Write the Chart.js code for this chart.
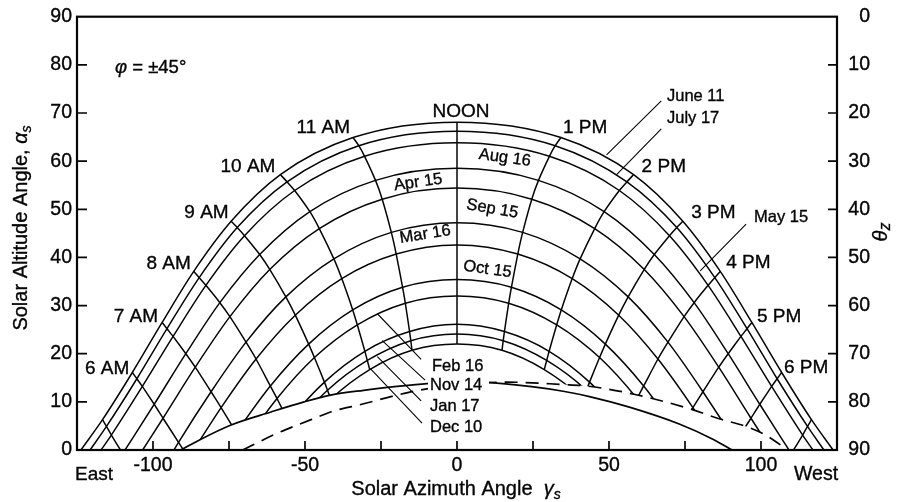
<!DOCTYPE html>
<html>
<head>
<meta charset="utf-8">
<script src="https://cdn.jsdelivr.net/npm/chart.js@4.4.1/dist/chart.umd.min.js"></script>
<style>
html,body{margin:0;padding:0;background:#fff;}
#wrap{width:901px;height:502px;}
</style>
</head>
<body>
<div id="wrap"><canvas id="c" width="901" height="502"></canvas></div>
<script>
// ---------------- data (degrees) ----------------
const dateLabels = ['June 11','July 17','May 15','Aug 16','Apr 15','Sep 15','Mar 16','Oct 15','Feb 16','Nov 14','Jan 17','Dec 10'];
const hourLabels = ['5 AM','6 AM','7 AM','8 AM','9 AM','10 AM','11 AM','NOON','1 PM','2 PM','3 PM','4 PM','5 PM','6 PM','7 PM'];

// solar altitude (alt) and solar azimuth (az) at each hour, 5 AM ... 7 PM (null = not above horizon)
const altJun11 = [6.3,16.1,26.5,37.1,47.5,57.2,64.9,68.1,64.9,57.2,47.5,37.1,26.5,16.1,6.3];
const azJun11  = [-116.6,-106.8,-97.0,-86.6,-74.3,-58.1,-34.2,0,34.2,58.1,74.3,86.6,97.0,106.8,116.6];
const altJul17 = [4.9,14.8,25.2,35.8,46.2,55.7,63.2,66.2,63.2,55.7,46.2,35.8,25.2,14.8,4.9];
const azJul17  = [-115.3,-105.3,-95.4,-84.8,-72.3,-55.9,-32.3,0,32.3,55.9,72.3,84.8,95.4,105.3,115.3];
const altMay15 = [3.1,13.2,23.6,34.2,44.5,53.9,61.0,63.8,61.0,53.9,44.5,34.2,23.6,13.2,3.1];
const azMay15  = [-113.7,-103.5,-93.4,-82.6,-69.9,-53.4,-30.4,0,30.4,53.4,69.9,82.6,93.4,103.5,113.7];
const altAug16 = [null,9.5,20.0,30.6,40.6,49.5,56.0,58.5,56.0,49.5,40.6,30.6,20.0,9.5,null];
const azAug16  = [null,-99.6,-89.2,-78.0,-64.9,-48.4,-26.8,0,26.8,48.4,64.9,78.0,89.2,99.6,null];
const altApr15 = [null,6.6,17.2,27.7,37.5,46.0,52.1,54.4,52.1,46.0,37.5,27.7,17.2,6.6,null];
const azApr15  = [null,-96.7,-86.1,-74.7,-61.6,-45.3,-24.6,0,24.6,45.3,61.6,74.7,86.1,96.7,null];
const altSep15 = [null,1.6,12.1,22.4,31.8,39.7,45.2,47.2,45.2,39.7,31.8,22.4,12.1,1.6,null];
const azSep15  = [null,-91.6,-80.9,-69.4,-56.3,-40.5,-21.6,0,21.6,40.5,56.3,69.4,80.9,91.6,null];
const altMar16 = [null,null,8.8,18.9,28.0,35.6,40.7,42.6,40.7,35.6,28.0,18.9,8.8,null,null];
const azMar16  = [null,null,-77.6,-66.1,-53.2,-37.9,-20.0,0,20.0,37.9,53.2,66.1,77.6,null,null];
const altOct15 = [null,null,3.6,13.3,22.0,29.1,33.8,35.4,33.8,29.1,22.0,13.3,3.6,null,null];
const azOct15  = [null,null,-72.6,-61.4,-48.8,-34.3,-17.9,0,17.9,34.3,48.8,61.4,72.6,null,null];
const altFeb16 = [null,null,1.1,10.7,19.2,26.0,30.5,32.0,30.5,26.0,19.2,10.7,1.1,null,null];
const azFeb16  = [null,null,-70.3,-59.2,-46.9,-32.8,-17.0,0,17.0,32.8,46.9,59.2,70.3,null,null];
const altNov14 = [null,null,null,6.0,14.1,20.5,24.6,26.1,24.6,20.5,14.1,6.0,null,null,null];
const azNov14  = [null,null,null,-55.5,-43.6,-30.3,-15.6,0,15.6,30.3,43.6,55.5,null,null,null];
const altJan17 = [null,null,null,4.5,12.4,18.6,22.7,24.1,22.7,18.6,12.4,4.5,null,null,null];
const azJan17  = [null,null,null,-54.2,-42.6,-29.5,-15.2,0,15.2,29.5,42.6,54.2,null,null,null];
const altDec10 = [null,null,null,2.8,10.6,16.7,20.7,22.0,20.7,16.7,10.6,2.8,null,null,null];
const azDec10  = [null,null,null,-53.0,-41.5,-28.7,-14.8,0,14.8,28.7,41.5,53.0,null,null,null];

// azimuth where each date curve meets the horizon (sunrise = negative, sunset = positive)
const sunsetAz = [123.7,120.7,117.1,109.2,103.4,93.1,86.6,76.4,71.5,62.7,59.7,56.5];
// azimuth where each hour line meets the horizon
const hourHorizonAz = [-110.7,-90.0,-69.3,null,null,null,null,null,null,null,null,null,69.3,90.0,110.7];

// lower boundary curves
const solidAz   = [-90.8,-84.7,-74.3,-61.2,-50.3,-41.6,-30.7,-19.8,-9.9,0,10.8,23.9,34.9,43.6,56.7,73.1,84.0,90.5];
const solidAlt  = [0,2.1,5.2,7.9,10.0,11.4,12.4,13.2,13.8,14.1,14.0,13.2,12.2,11.1,8.9,5.4,2.3,0];
const dashedAz  = [-70.5,-60.1,-52.5,-44.8,-41.6,-30.7,-19.8,-9.9,16.3,34.9,42.5,56.7,76.4,86.2,95.5,101.5,108.8];
const dashedAlt = [0,3.2,5.2,7.1,7.9,9.6,11.4,12.7,14.1,13.6,13.3,11.8,8.6,6.5,4.8,3.1,0];

// ---------------- build ----------------
const dateAlt = [altJun11,altJul17,altMay15,altAug16,altApr15,altSep15,altMar16,altOct15,altFeb16,altNov14,altJan17,altDec10];
const dateAz  = [azJun11,azJul17,azMay15,azAug16,azApr15,azSep15,azMar16,azOct15,azFeb16,azNov14,azJan17,azDec10];

const INK = '#050505';
const FONT = '"Liberation Sans", Arial, Helvetica, sans-serif';
Chart.defaults.font.family = FONT;
Chart.defaults.color = INK;

const datasets = [];
dateLabels.forEach((name, d) => {
  const pts = [{x: -sunsetAz[d], y: 0}];
  for (let h = 0; h < hourLabels.length; h++) {
    if (dateAlt[d][h] !== null) pts.push({x: dateAz[d][h], y: dateAlt[d][h]});
  }
  pts.push({x: sunsetAz[d], y: 0});
  datasets.push({label: name, data: pts, showLine: true, cubicInterpolationMode: 'monotone',
    borderColor: INK, borderWidth: 1.5, pointRadius: 0, fill: false, order: 10});
});
hourLabels.forEach((name, h) => {
  const pts = [];
  for (let d = 0; d < dateLabels.length; d++) {
    if (dateAlt[d][h] !== null) pts.push({x: dateAz[d][h], y: dateAlt[d][h]});
  }
  if (hourHorizonAz[h] !== null) pts.push({x: hourHorizonAz[h], y: 0});
  datasets.push({label: name, data: pts, showLine: true, tension: h === 7 ? 0 : 0.2,
    borderColor: INK, borderWidth: 1.5, pointRadius: 0, fill: false, order: 10});
});
const solidPts = solidAz.map((v, i) => ({x: v, y: solidAlt[i]}));
const dashedPts = dashedAz.map((v, i) => ({x: v, y: dashedAlt[i]}));
// white masks below the two boundary curves
[solidPts, dashedPts].forEach((pts, i) => {
  datasets.push({label: 'mask' + i, data: pts, showLine: true, cubicInterpolationMode: 'monotone',
    borderWidth: 0, borderColor: 'rgba(0,0,0,0)', backgroundColor: '#ffffff', fill: 'origin', pointRadius: 0, order: 5});
});
datasets.push({label: 'solid', data: solidPts, showLine: true, cubicInterpolationMode: 'monotone',
  borderColor: INK, borderWidth: 1.7, pointRadius: 0, fill: false, order: 0});
datasets.push({label: 'dashed', data: dashedPts, showLine: true, cubicInterpolationMode: 'monotone',
  borderColor: INK, borderWidth: 1.7, borderDash: [13, 8], pointRadius: 0, fill: false, order: 0});

function rich(ctx, parts, x, y, align) {
  let w = 0;
  for (const p of parts) { ctx.font = p[1]; w += ctx.measureText(p[0]).width; }
  let cx = align === 'center' ? x - w / 2 : (align === 'right' ? x - w : x);
  ctx.textAlign = 'left';
  ctx.textBaseline = 'alphabetic';
  ctx.lineWidth = 0.35;
  ctx.strokeStyle = INK;
  for (const p of parts) {
    ctx.font = p[1];
    ctx.fillText(p[0], cx, y + (p[2] || 0));
    ctx.strokeText(p[0], cx, y + (p[2] || 0));
    cx += ctx.measureText(p[0]).width;
  }
}

const decor = {
  id: 'decor',
  afterDraw(chart) {
    const {ctx, chartArea: a, scales} = chart;
    const X = v => scales.x.getPixelForValue(v);
    const Y = v => scales.y.getPixelForValue(v);
    ctx.save();
    ctx.strokeStyle = INK; ctx.fillStyle = INK;

    // frame
    ctx.lineWidth = 2.2;
    ctx.strokeRect(a.left, a.top, a.right - a.left, a.bottom - a.top);

    // inward tick marks from the library's ticks
    ctx.lineWidth = 1.7;
    ctx.beginPath();
    scales.x.ticks.forEach(t => {
      if (t.value > -125 && t.value < 125) { ctx.moveTo(X(t.value), a.bottom); ctx.lineTo(X(t.value), a.bottom - 9); }
    });
    scales.y.ticks.forEach(t => {
      if (t.value > 0 && t.value < 90) {
        ctx.moveTo(a.left, Y(t.value)); ctx.lineTo(a.left + 10, Y(t.value));
        ctx.moveTo(a.right, Y(t.value)); ctx.lineTo(a.right - 9, Y(t.value));
      }
    });
    ctx.stroke();

    // leader lines (label end -> curve end), in data coordinates
    const leaders = [
      [67.2, 72.5, 49.2, 61.3],
      [67.2, 66.7, 52.5, 57.2],
      [95.1, 46.9, 80.0, 37.2],
      [-26.2, 28.3, -11.8, 18.8],
      [-24.6, 22.7, -10.5, 14.5],
      [-26.2, 19.4, -11.8, 10.2],
      [-28.5, 16.9, -11.5, 5.6]
    ];
    ctx.lineWidth = 1.1;
    ctx.beginPath();
    leaders.forEach(l => { ctx.moveTo(X(l[0]), Y(l[1])); ctx.lineTo(X(l[2]), Y(l[3])); });
    ctx.stroke();

    // hour labels anchored on the June 11 curve
    const hf = '19px ' + FONT;
    const hourOff = {1:[-3,2],2:[-4,0],3:[-3,-2],4:[-2.5,-3],5:[-5,-3],6:[-3,-4.5],7:[4,-5.5],
                     8:[2,-4.5],9:[8,-3],10:[8.4,-3],11:[6,-3],12:[5,0],13:[2.3,1]};
    Object.keys(hourOff).forEach(k => {
      const h = +k, o = hourOff[k];
      const px = X(azJun11[h]) + o[0], py = Y(altJun11[h]) + o[1];
      rich(ctx, [[hourLabels[h], hf]], px, py, h < 7 ? 'right' : (h === 7 ? 'center' : 'left'));
    });

    // date labels
    const df = '16.5px ' + FONT;
    ctx.fillStyle = '#fff';
    ctx.fillRect(428, 376, 61, 16);   // white box behind Nov 14
    ctx.fillStyle = INK;
    const flat = [['June 11',667,101],['July 17',667,123],['May 15',754,222],
                  ['Feb 16',432,370.5],['Nov 14',430,390],['Jan 17',430,411],['Dec 10',430,432]];
    flat.forEach(f => rich(ctx, [[f[0], df]], f[1], f[2], 'left'));
    const tilted = [['Aug 16',505,157,8],['Apr 15',418,181.5,-8],['Sep 15',492.5,208,10],
                    ['Mar 16',425,233.5,-9],['Oct 15',487.5,268.5,8]];
    tilted.forEach(t => {
      ctx.save();
      ctx.translate(t[1], t[2]);
      ctx.rotate(t[3] * Math.PI / 180);
      rich(ctx, [[t[0], df]], 0, 5.5, 'center');
      ctx.restore();
    });

    // latitude note
    rich(ctx, [['\u03C6', 'italic 18.5px ' + FONT], [' = \u00B145\u00B0', '18.5px ' + FONT]], 115, 73, 'left');

    // East / West
    rich(ctx, [['East', '19px ' + FONT]], 75, 479.5, 'left');
    rich(ctx, [['West', '19.5px ' + FONT]], 794, 479.5, 'left');

    // axis titles
    const tf = '20px ' + FONT, ti = 'italic 20px ' + FONT, ts = 'italic 14px ' + FONT;
    rich(ctx, [['Solar Azimuth Angle  ', tf], ['\u03B3', ti], ['s', ts, 4]], 456, 495, 'center');
    ctx.save();
    ctx.translate(20, 228);
    ctx.rotate(-Math.PI / 2);
    rich(ctx, [['Solar Altitude Angle, ', tf], ['\u03B1', ti], ['s', ts, 4]], 0, 6.7, 'center');
    ctx.restore();
    ctx.save();
    ctx.translate(880, 232);
    ctx.rotate(-Math.PI / 2);
    rich(ctx, [['\u03B8', 'italic 20px ' + FONT], ['z', 'italic 16px ' + FONT, 3]], 0, 6.7, 'center');
    ctx.restore();

    ctx.restore();
  }
};

const tickFont = {size: 19.5};
new Chart(document.getElementById('c'), {
  type: 'scatter',
  data: {datasets},
  options: {
    responsive: false,
    animation: false,
    events: [],
    layout: {padding: {left: 0, right: 31, top: 14, bottom: 0}},
    plugins: {legend: {display: false}, tooltip: {enabled: false}},
    scales: {
      x: {type: 'linear', position: 'bottom', min: -125, max: 125,
          grid: {display: false, drawTicks: false}, border: {display: false},
          ticks: {stepSize: 25, autoSkip: false, maxRotation: 0, padding: 4, color: INK, font: tickFont,
                  textStrokeColor: INK, textStrokeWidth: 0.35,
                  callback: v => (v % 50 === 0 && Math.abs(v) <= 100) ? String(v) : ''},
          afterFit: s => { s.height = 52; }},
      y: {type: 'linear', position: 'left', min: 0, max: 90,
          grid: {display: false, drawTicks: false}, border: {display: false},
          ticks: {stepSize: 10, padding: 5, color: INK, font: tickFont, textStrokeColor: INK, textStrokeWidth: 0.35},
          afterFit: s => { s.width = 77; }},
      y2: {type: 'linear', position: 'right', min: 0, max: 90, reverse: true,
           grid: {display: false, drawTicks: false}, border: {display: false},
           ticks: {stepSize: 10, padding: 0, crossAlign: 'far', color: INK, font: tickFont, textStrokeColor: INK, textStrokeWidth: 0.35},
           afterFit: s => { s.width = 33; }}
    }
  },
  plugins: [decor]
});
</script>
</body>
</html>
